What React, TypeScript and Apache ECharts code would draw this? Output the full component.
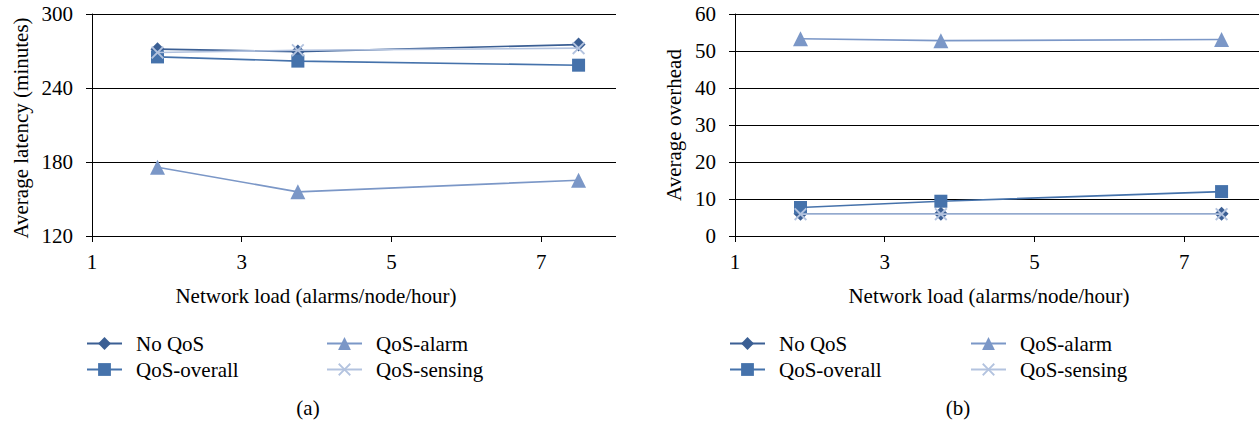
import React, { useEffect, useRef } from "react";
import * as echarts from "echarts";

const loads = [1.875, 3.75, 7.5];
const xTicks = [1, 3, 5, 7];
const seriesNames = ["No QoS", "QoS-overall", "QoS-alarm", "QoS-sensing"];

const latencyNoQoS = [271.5, 269.5, 275.2];
const latencyOverall = [265.2, 261.8, 258.5];
const latencyAlarm = [175.8, 155.8, 165.2];
const latencySensing = [268.8, 270.6, 272.3];

const overheadNoQoS = [6.0, 6.0, 6.0];
const overheadOverall = [7.7, 9.4, 12.0];
const overheadAlarm = [53.3, 52.8, 53.1];
const overheadSensing = [5.9, 5.9, 5.9];

const FONT = "Liberation Serif";
const FS = 21;
const COLORS = ["#3b5f94", "#4572ab", "#7b97c7", "#b3c3df"];
const XSYM = "path://M0,1 L1,0 L5,4 L9,0 L10,1 L6,5 L10,9 L9,10 L5,6 L1,10 L0,9 L4,5 Z";
const SYMBOLS = ["diamond", "rect", "triangle", XSYM];
const SIZES = [14, 13, 15, 13];

export default function App() {
  const ref = useRef<HTMLDivElement>(null);
  useEffect(() => {
    const chart = echarts.init(ref.current!, null, { renderer: "svg" });
    const pairs = (ys: number[]) => loads.map((x, i) => [x, ys[i]]);
    const latency = [latencyNoQoS, latencyOverall, latencyAlarm, latencySensing];
    const overhead = [overheadNoQoS, overheadOverall, overheadAlarm, overheadSensing];

    const grids = [
      { left: 92, top: 14, width: 524, height: 222 },
      { left: 735, top: 14, width: 524, height: 222 },
    ];
    const xAxis = [0, 1].map((g) => ({
      type: "value",
      gridIndex: g,
      min: 1,
      max: 8,
      axisLine: { show: false },
      axisTick: { show: true, customValues: xTicks, length: 6, inside: false, lineStyle: { color: "#000" } },
      axisLabel: { customValues: xTicks, color: "#000", fontFamily: FONT, fontSize: FS, margin: 15 },
      splitLine: { show: false },
    }));
    const yAxis = [
      { min: 120, max: 300, interval: 60 },
      { min: 0, max: 60, interval: 10 },
    ].map((r, g) => ({
      type: "value",
      gridIndex: g,
      ...r,
      axisLine: { show: true, lineStyle: { color: "#000", width: 1 } },
      axisTick: { show: true, length: 6, lineStyle: { color: "#000" } },
      axisLabel: { color: "#000", fontFamily: FONT, fontSize: FS, margin: 19 },
      splitLine: { show: true, lineStyle: { color: "#000", width: 1 } },
    }));

    const series: any[] = [];
    [latency, overhead].forEach((set, g) => {
      set.forEach((ys, i) => {
        series.push({
          type: "line",
          name: seriesNames[i],
          xAxisIndex: g,
          yAxisIndex: g,
          data: pairs(ys),
          symbol: SYMBOLS[i],
          symbolSize: SIZES[i],
          showAllSymbol: true,
          lineStyle: { color: COLORS[i], width: 1.6 },
          itemStyle: { color: COLORS[i] },
          z: i === 3 ? 3 : 2,
        });
      });
    });

    const mkLegend = (left: number, data: string[]) => ({
      orient: "vertical",
      left,
      top: 333,
      padding: 0,
      data,
      itemWidth: 35,
      itemHeight: 16,
      itemGap: 5,
      selectedMode: false,
      textStyle: { color: "#000", fontFamily: FONT, fontSize: FS, padding: [0, 0, 0, 9] },
    });

    const txt = (x: number, y: number, text: string, rotation = 0) => ({
      type: "text",
      x,
      y,
      rotation,
      style: { text, fill: "#000", font: `${FS}px "${FONT}"`, align: "center", verticalAlign: "middle" },
    });

    chart.setOption({
      animation: false,
      grid: grids,
      xAxis,
      yAxis,
      series,
      legend: [
        mkLegend(86, ["No QoS", "QoS-overall"]),
        mkLegend(326, ["QoS-alarm", "QoS-sensing"]),
        mkLegend(729, ["No QoS", "QoS-overall"]),
        mkLegend(970, ["QoS-alarm", "QoS-sensing"]),
      ],
      graphic: [
        txt(21, 128, "Average latency (minutes)", Math.PI / 2),
        txt(674, 125, "Average overhead", Math.PI / 2),
        txt(316, 296, "Network load (alarms/node/hour)"),
        txt(989, 296, "Network load (alarms/node/hour)"),
        txt(308, 408, "(a)"),
        txt(958, 408, "(b)"),
      ],
    });
    return () => chart.dispose();
  }, []);
  return (
    <div
      ref={ref}
      style={{ position: "absolute", left: 0, top: 0, width: 1260, height: 423, background: "#fff" }}
    />
  );
}
